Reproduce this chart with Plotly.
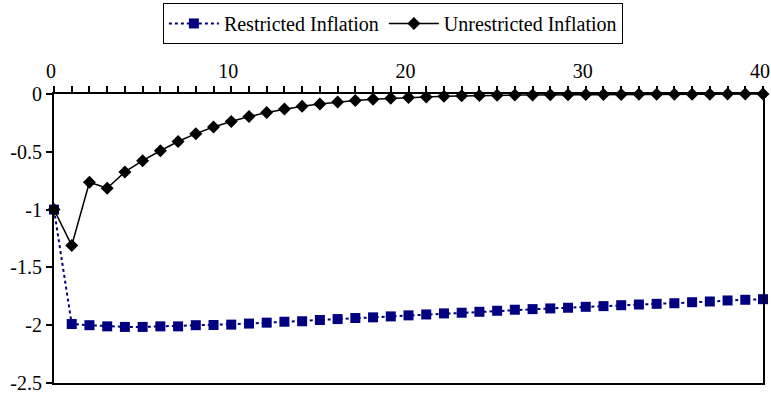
import plotly.graph_objects as go

periods = list(range(41))

restricted = [-1.0, -1.99, -2.0, -2.01, -2.015, -2.015, -2.01, -2.01, -2.0, -1.998,
              -1.995, -1.986, -1.978, -1.97, -1.966, -1.955, -1.947, -1.938, -1.932, -1.924,
              -1.915, -1.907, -1.898, -1.892, -1.884, -1.875, -1.866, -1.861, -1.855, -1.849,
              -1.841, -1.835, -1.827, -1.821, -1.815, -1.81, -1.801, -1.795, -1.786, -1.78, -1.775]

unrestricted = [-1.0, -1.31, -0.763, -0.815, -0.674, -0.577, -0.491, -0.411, -0.343, -0.286,
                -0.238, -0.195, -0.16, -0.13, -0.105, -0.087, -0.07, -0.056, -0.045, -0.037,
                -0.03, -0.025, -0.02, -0.016, -0.013, -0.011, -0.009, -0.008, -0.007, -0.006,
                -0.005, -0.004, -0.004, -0.003, -0.003, -0.002, -0.002, -0.002, -0.001, -0.001, -0.001]

x_tickvals = list(range(41))
x_ticktext = [str(v) if v % 10 == 0 else "" for v in x_tickvals]
y_tickvals = [0, -0.5, -1, -1.5, -2, -2.5]
y_ticktext = ["0", "-0.5", "-1", "-1.5", "-2", "-2.5"]

FONT = "Liberation Serif"
tfont = dict(family=FONT, size=20, color="black")

fig = go.Figure()
fig.add_trace(go.Scatter(
    x=periods, y=restricted, name="Restricted Inflation", mode="lines+markers",
    line=dict(color="#000080", width=2, dash="3px,3px"),
    marker=dict(symbol="square", size=10, color="#000080"),
    cliponaxis=False,
))
fig.add_trace(go.Scatter(
    x=periods, y=unrestricted, name="Unrestricted Inflation", mode="lines+markers",
    line=dict(color="black", width=1.5),
    marker=dict(symbol="diamond", size=10, color="black"),
    cliponaxis=False,
))

fig.update_layout(
    width=771, height=395,
    margin=dict(l=54, r=8, t=94, b=12, autoexpand=False),
    paper_bgcolor="white", plot_bgcolor="white",
    font=tfont,
    showlegend=True,
    legend=dict(orientation="h", x=0.478, y=1.315, xanchor="center", yanchor="top",
                bordercolor="black", borderwidth=1, font=tfont,
                itemwidth=50, tracegroupgap=0),
    xaxis=dict(range=[0, 40], side="top", tickvals=x_tickvals, ticktext=x_ticktext,
               ticks="outside", ticklen=6, tickcolor="black", tickwidth=1.5,
               showline=True, linecolor="black", linewidth=2, mirror=True,
               showgrid=False, zeroline=False, tickfont=tfont, automargin=False,
               ticklabeloverflow="allow", ticklabelshift=-3),
    yaxis=dict(range=[-2.5, 0], tickvals=y_tickvals, ticktext=y_ticktext,
               ticks="outside", ticklen=6, tickcolor="black", tickwidth=1.5,
               showline=True, linecolor="black", linewidth=2, mirror=True,
               showgrid=False, zeroline=False, tickfont=tfont, automargin=False,
               ticklabeloverflow="allow"),
)

fig.write_html("out.html", config={"displayModeBar": False},
               post_script="document.body.style.margin='0';document.body.style.padding='0';")
